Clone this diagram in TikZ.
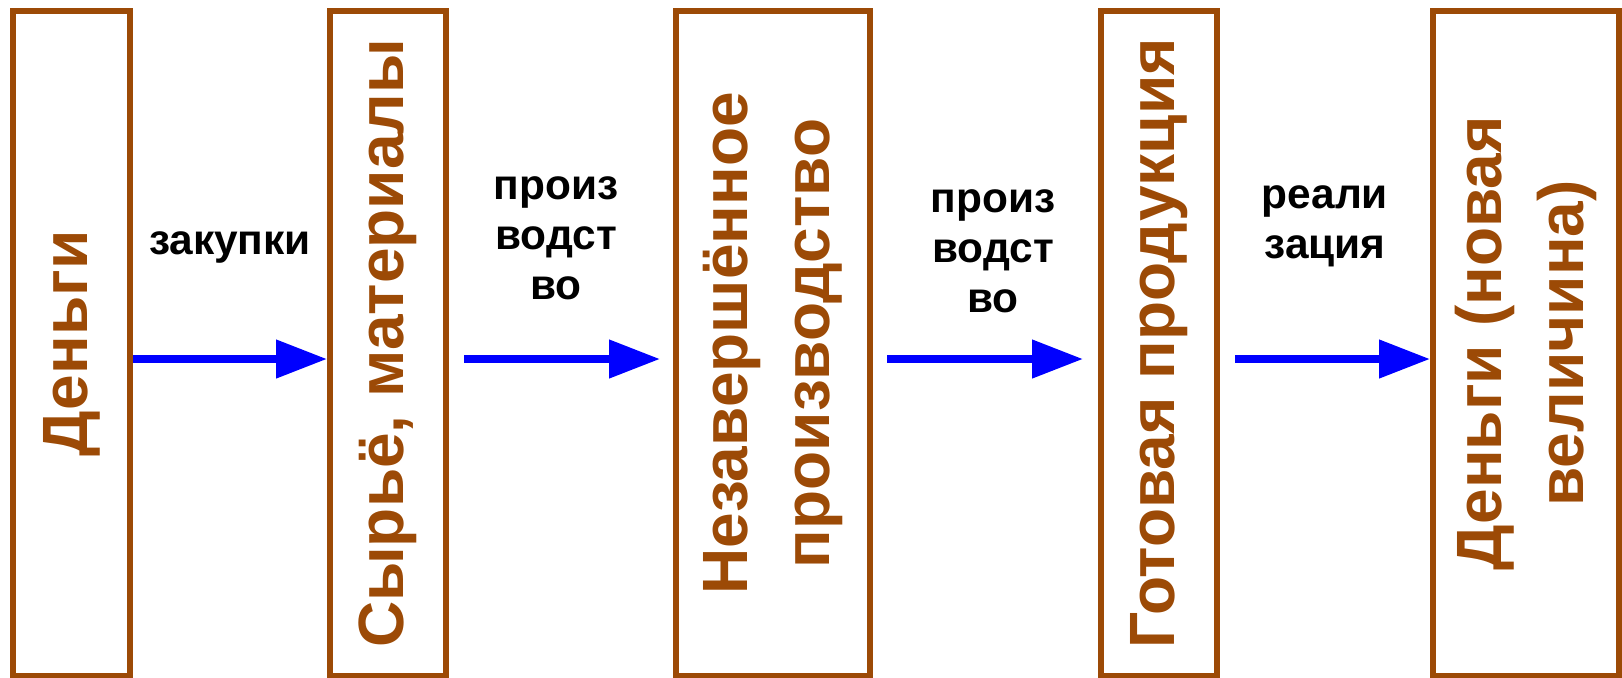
\documentclass[tikz,border=0pt]{standalone}
\usepackage{fontspec}
\setmainfont{Liberation Sans}
\usetikzlibrary{arrows.meta}
\definecolor{brn}{RGB}{156,74,6}
\begin{document}
\begin{tikzpicture}[x=0.5pt,y=-0.5pt,
 box/.style={draw=brn, line width=3pt, rotate=90, minimum width=332.5pt, inner sep=0pt, align=center, text=brn, font=\bfseries\fontsize{32}{41}\selectfont},
 arr/.style={draw=blue, line width=3.85pt, -{Triangle[length=25.5pt,width=18.5pt]}},
 lbl/.style={align=center, font=\bfseries\fontsize{21.2}{25}\selectfont, inner sep=0pt}]
\useasboundingbox (0,0) rectangle (1622,677);
\node[box, minimum height=58.5pt] (b1) at (71.5,343.5) {Деньги};
\node[box, minimum height=58pt] (b2) at (388,343.5) {Сырьё, материалы};
\node[box, minimum height=97pt] (b3) at (773,343.5) {Незавершённое\\производство};
\node[box, minimum height=58pt] (b4) at (1159,343.5) {Готовая продукция};
\node[box, minimum height=93pt] (b5) at (1526,343.5) {Деньги (новая\\величина)};
\draw[arr] ([yshift=-7.75pt]b1.south) -- ([yshift=-7.75pt]b2.north);
\draw[arr, shorten <=7.5pt, shorten >=6.5pt] ([yshift=-7.75pt]b2.south) -- ([yshift=-7.75pt]b3.north);
\draw[arr, shorten <=7pt, shorten >=7.5pt] ([yshift=-7.75pt]b3.south) -- ([yshift=-7.75pt]b4.north);
\draw[arr, shorten <=7.5pt] ([yshift=-7.75pt]b4.south) -- ([yshift=-7.75pt]b5.north);
\node[lbl] (l1) at (230,247) {закупки};
\node[lbl] (l2) at (556,238) {произ\\водст\\во};
\node[lbl] (l3) at (993,251) {произ\\водст\\во};
\node[lbl] (l4) at (1325,226) {реали\\зация};
\end{tikzpicture}
\end{document}
